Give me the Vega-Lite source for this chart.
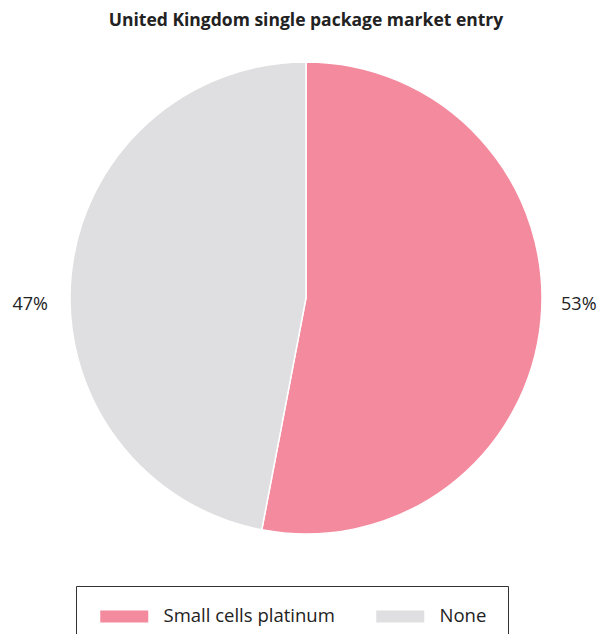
{
  "$schema": "https://vega.github.io/schema/vega-lite/v6.json",
  "width": 588,
  "height": 516,
  "autosize": "none",
  "padding": {"left": 12, "top": 40, "right": 0, "bottom": 78},
  "background": "white",
  "title": {
    "text": "United Kingdom single package market entry",
    "font": "Open Sans",
    "fontSize": 17.5,
    "fontWeight": "bold",
    "color": "#222222",
    "anchor": "middle",
    "offset": 11
  },
  "data": {
    "values": [
      {"category": "Small cells platinum", "share": 0.53},
      {"category": "None", "share": 0.47}
    ]
  },
  "encoding": {
    "theta": {"field": "share", "type": "quantitative", "stack": true},
    "order": {"field": "share", "type": "quantitative", "sort": "descending"}
  },
  "layer": [
    {
      "mark": {"type": "arc", "outerRadius": 236, "stroke": "white", "strokeWidth": 1.5},
      "encoding": {
        "color": {
          "field": "category",
          "type": "nominal",
          "scale": {"domain": ["Small cells platinum", "None"], "range": ["#F48A9E", "#DFDFE1"]},
          "legend": {
            "title": null,
            "orient": "none",
            "direction": "horizontal",
            "legendX": 64,
            "legendY": 546,
            "strokeColor": "#333333",
            "padding": 21,
            "symbolType": "M-1,-1H7V1H-1Z",
            "symbolSize": 144,
            "symbolStrokeWidth": 0,
            "labelFont": "Open Sans",
            "labelFontSize": 18.5,
            "labelColor": "#222222",
            "labelOffset": 48,
            "columnPadding": 38,
            "labelLimit": 300
          }
        }
      }
    },
    {
      "mark": {"type": "text", "radius": 277, "dy": 33, "font": "Open Sans", "fontSize": 18, "color": "#222222"},
      "encoding": {
        "text": {
          "condition": {"test": "datum.category === 'None'", "field": "share", "type": "quantitative", "format": ".0%"},
          "value": ""
        }
      }
    },
    {
      "mark": {"type": "text", "radius": 274, "dy": -19, "font": "Open Sans", "fontSize": 18, "color": "#222222"},
      "encoding": {
        "text": {
          "condition": {"test": "datum.category === 'Small cells platinum'", "field": "share", "type": "quantitative", "format": ".0%"},
          "value": ""
        }
      }
    }
  ]
}
